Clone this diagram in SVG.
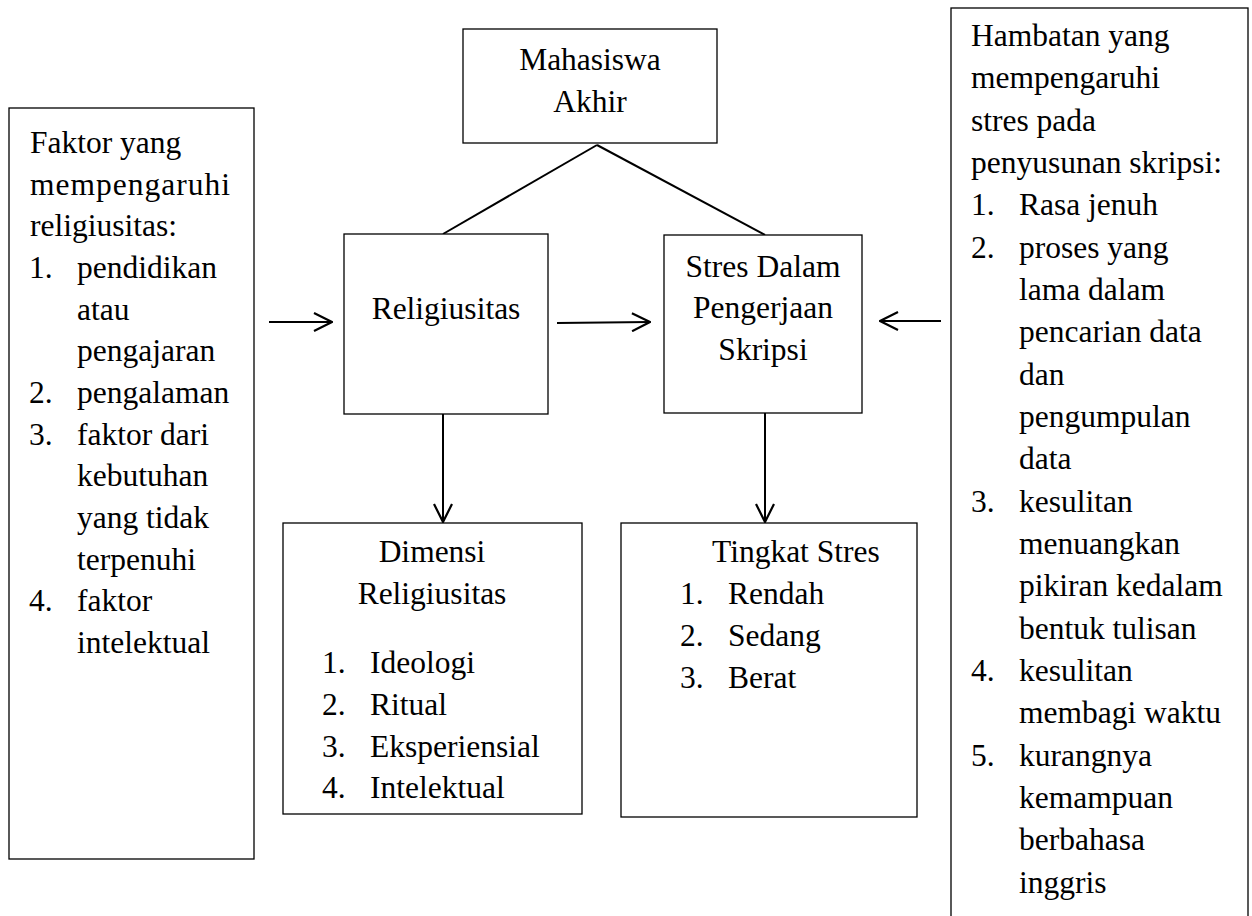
<svg xmlns="http://www.w3.org/2000/svg" width="1252" height="916" viewBox="0 0 1252 916">
<style>
.box{fill:#fff;stroke:#000;stroke-width:1.3}
.t{font-family:"Liberation Serif","Times New Roman",serif;font-size:31.5px;fill:#000}
.c{text-anchor:middle}
.ln{stroke:#000;stroke-width:2;fill:none}
</style>
<defs>
<marker id="ah" viewBox="0 0 20 20" refX="19" refY="10" markerWidth="20" markerHeight="20" markerUnits="userSpaceOnUse" orient="auto">
<path d="M1,1 L19,10 L1,19" fill="none" stroke="#000" stroke-width="2.2"/>
</marker>
</defs>
<rect width="1252" height="916" fill="#fff"/>
<g id="connectors">
<line class="ln" x1="597" y1="145" x2="443" y2="234"/>
<line class="ln" x1="597" y1="145" x2="765" y2="235"/>
<line class="ln" x1="269" y1="322" x2="332" y2="322" marker-end="url(#ah)"/>
<line class="ln" x1="557" y1="323" x2="650" y2="322" marker-end="url(#ah)"/>
<line class="ln" x1="941" y1="321" x2="880" y2="321" marker-end="url(#ah)"/>
<line class="ln" x1="443" y1="414" x2="443" y2="522" marker-end="url(#ah)"/>
<line class="ln" x1="765" y1="413" x2="765" y2="522" marker-end="url(#ah)"/>
</g>
<g id="node-mahasiswa">
<rect class="box" x="463" y="29" width="254" height="114"/>
<text class="t c" x="590" y="70">Mahasiswa</text>
<text class="t c" x="590" y="112">Akhir</text>
</g>
<g id="node-religiusitas">
<rect class="box" x="344" y="234" width="204" height="180"/>
<text class="t c" x="446" y="319">Religiusitas</text>
</g>
<g id="node-stres">
<rect class="box" x="664" y="235" width="198" height="178"/>
<text class="t c" x="763" y="277">Stres Dalam</text>
<text class="t c" x="763" y="318">Pengerjaan</text>
<text class="t c" x="763" y="360">Skripsi</text>
</g>
<g id="node-faktor">
<rect class="box" x="9" y="108" width="245" height="751"/>
<text class="t" x="30" y="153">Faktor yang</text>
<text class="t" x="30" y="195" textLength="200" lengthAdjust="spacing">mempengaruhi</text>
<text class="t" x="30" y="236">religiusitas:</text>
<text class="t" x="29" y="278">1.</text><text class="t" x="77" y="278">pendidikan</text>
<text class="t" x="77" y="320">atau</text>
<text class="t" x="77" y="361">pengajaran</text>
<text class="t" x="29" y="403">2.</text><text class="t" x="77" y="403">pengalaman</text>
<text class="t" x="29" y="445">3.</text><text class="t" x="77" y="445">faktor dari</text>
<text class="t" x="77" y="486">kebutuhan</text>
<text class="t" x="77" y="528">yang tidak</text>
<text class="t" x="77" y="570">terpenuhi</text>
<text class="t" x="29" y="611">4.</text><text class="t" x="77" y="611">faktor</text>
<text class="t" x="77" y="653">intelektual</text>
</g>
<g id="node-dimensi">
<rect class="box" x="283" y="523" width="299" height="291"/>
<text class="t c" x="432" y="562">Dimensi</text>
<text class="t c" x="432" y="604">Religiusitas</text>
<text class="t" x="322" y="673">1.</text><text class="t" x="370" y="673">Ideologi</text>
<text class="t" x="322" y="715">2.</text><text class="t" x="370" y="715">Ritual</text>
<text class="t" x="322" y="757">3.</text><text class="t" x="370" y="757">Eksperiensial</text>
<text class="t" x="322" y="798">4.</text><text class="t" x="370" y="798">Intelektual</text>
</g>
<g id="node-tingkat">
<rect class="box" x="621" y="523" width="296" height="294"/>
<text class="t" x="712" y="562">Tingkat Stres</text>
<text class="t" x="680" y="604">1.</text><text class="t" x="728" y="604">Rendah</text>
<text class="t" x="680" y="646">2.</text><text class="t" x="728" y="646">Sedang</text>
<text class="t" x="680" y="688">3.</text><text class="t" x="728" y="688">Berat</text>
</g>
<g id="node-hambatan">
<rect class="box" x="951" y="8" width="297" height="930"/>
<text class="t" x="971" y="46">Hambatan yang</text>
<text class="t" x="971" y="88">mempengaruhi</text>
<text class="t" x="971" y="131">stres pada</text>
<text class="t" x="971" y="173">penyusunan skripsi:</text>
<text class="t" x="971" y="215">1.</text><text class="t" x="1019" y="215">Rasa jenuh</text>
<text class="t" x="971" y="258">2.</text><text class="t" x="1019" y="258">proses yang</text>
<text class="t" x="1019" y="300">lama dalam</text>
<text class="t" x="1019" y="342">pencarian data</text>
<text class="t" x="1019" y="385">dan</text>
<text class="t" x="1019" y="427">pengumpulan</text>
<text class="t" x="1019" y="469">data</text>
<text class="t" x="971" y="512">3.</text><text class="t" x="1019" y="512">kesulitan</text>
<text class="t" x="1019" y="554">menuangkan</text>
<text class="t" x="1019" y="596">pikiran kedalam</text>
<text class="t" x="1019" y="639">bentuk tulisan</text>
<text class="t" x="971" y="681">4.</text><text class="t" x="1019" y="681">kesulitan</text>
<text class="t" x="1019" y="723">membagi waktu</text>
<text class="t" x="971" y="766">5.</text><text class="t" x="1019" y="766">kurangnya</text>
<text class="t" x="1019" y="808">kemampuan</text>
<text class="t" x="1019" y="850">berbahasa</text>
<text class="t" x="1019" y="893">inggris</text>
</g>
</svg>
